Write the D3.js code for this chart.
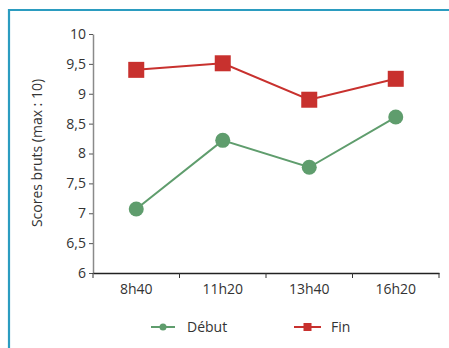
<!DOCTYPE html>
<html><head><meta charset="utf-8">
<script src="https://cdn.jsdelivr.net/npm/d3@7"></script>
<style>body{margin:0;background:#fff}svg{display:block}text{font-family:"Open Sans","Noto Sans",sans-serif}</style>
</head><body>
<script>
const categories = ["8h40","11h20","13h40","16h20"];
const debut = [7.07, 8.22, 7.77, 8.61];
const fin = [9.40, 9.51, 8.90, 9.25];
const yTicks = [6,6.5,7,7.5,8,8.5,9,9.5,10];
const seriesNames = ["Début","Fin"];

const W=449,H=348;
const svg=d3.select("body").append("svg").attr("width",W).attr("height",H);
// frame
svg.append("path").attr("d","M9,348 V10 H449").attr("fill","none").attr("stroke","#2b9cc0").attr("stroke-width",2.2);

const x=d3.scaleBand().domain(categories).range([93,439]);
const y=d3.scaleLinear().domain([6,10]).range([273,34]);
const fmt=d=>String(d).replace(".",",");

// y axis
const ya=svg.append("g").attr("transform","translate(93,0)").call(d3.axisLeft(y).tickValues(yTicks).tickFormat(fmt).tickSize(4).tickSizeOuter(0));
ya.select(".domain").attr("stroke","#8a8a8a").attr("stroke-width",1.5);
ya.selectAll(".tick line").attr("stroke","#555");
ya.selectAll("text").attr("font-size",14).attr("fill","#333").attr("x",-7);

// x axis
const xa=svg.append("g").attr("transform","translate(0,273)").call(d3.axisBottom(x).tickSize(0).tickSizeOuter(0));
xa.select(".domain").attr("stroke","#222").attr("stroke-width",1.3);
xa.selectAll("text").attr("font-size",14).attr("fill","#333").attr("dy","1.25em");
xa.selectAll(".tick line").remove();
const bounds=[...categories.map(c=>x(c)), x.range()[1]];
svg.append("g").selectAll("line").data(bounds).join("line")
 .attr("x1",d=>d).attr("x2",d=>d).attr("y1",273).attr("y2",278).attr("stroke","#333").attr("stroke-width",1);

// y title
svg.append("text").attr("transform","translate(42,153) rotate(-90)").attr("text-anchor","middle")
 .attr("font-size",14).attr("fill","#333").text("Scores bruts (max : 10)");

const cx=c=>x(c)+x.bandwidth()/2;
const line=d3.line().x((d,i)=>cx(categories[i])).y(d=>y(d));
const green="#5f9d6d", red="#c8312e";

svg.append("path").datum(debut).attr("d",line).attr("fill","none").attr("stroke",green).attr("stroke-width",2);
svg.append("g").selectAll("circle").data(debut).join("circle")
 .attr("cx",(d,i)=>cx(categories[i])).attr("cy",d=>y(d)).attr("r",7.5).attr("fill",green);

svg.append("path").datum(fin).attr("d",line).attr("fill","none").attr("stroke",red).attr("stroke-width",2);
svg.append("g").selectAll("rect").data(fin).join("rect")
 .attr("x",(d,i)=>cx(categories[i])-8).attr("y",d=>y(d)-8).attr("width",16).attr("height",16).attr("fill",red);

// legend
const lg=svg.append("g");
lg.append("line").attr("x1",151).attr("x2",175).attr("y1",327).attr("y2",327).attr("stroke",green).attr("stroke-width",2);
lg.append("circle").attr("cx",163).attr("cy",327).attr("r",3.5).attr("fill",green);
lg.append("text").attr("x",187).attr("y",332).attr("font-size",14).attr("fill","#333").text(seriesNames[0]);
lg.append("line").attr("x1",294).attr("x2",321).attr("y1",327).attr("y2",327).attr("stroke",red).attr("stroke-width",2);
lg.append("rect").attr("x",303.5).attr("y",323).attr("width",8).attr("height",8).attr("fill",red);
lg.append("text").attr("x",331).attr("y",332).attr("font-size",14).attr("fill","#333").text(seriesNames[1]);
</script>
</body></html>
